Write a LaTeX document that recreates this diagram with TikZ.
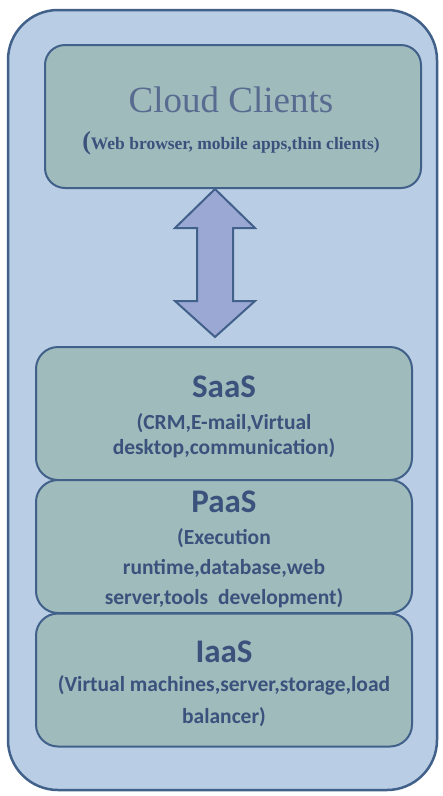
\documentclass[tikz,border=0pt]{standalone}
\usepackage{fontspec}
\setmainfont{Liberation Serif}
\newfontfamily\calfont{Carlito}
\usetikzlibrary{calc}

\definecolor{frame}{HTML}{41608A}
\definecolor{skyfill}{HTML}{B9CDE5}
\definecolor{layerfill}{HTML}{9FBBBC}
\definecolor{arrowfill}{HTML}{9BA8D3}
\definecolor{ink}{HTML}{3A527C}

\tikzset{
  layer/.style={draw=frame,line width=2pt,fill=layerfill,rounded corners=22pt,
    minimum width=376pt,minimum height=133pt},
  heading/.style={text=ink,font=\calfont\bfseries\fontsize{33}{38}\selectfont},
  detail/.style={text=ink,align=center,inner sep=0pt}
}

\begin{document}
\begin{tikzpicture}[x=1pt,y=-1pt]
    \useasboundingbox (0,0) rectangle (443,796);
    \draw[draw=frame,line width=2.5pt,fill=skyfill,rounded corners=50pt] (8,10) rectangle (437,790);

    % client box on top
    \node[layer,minimum height=143pt,rounded corners=20pt] (clients) at (233,116.5) {};
    \node[text=ink!85,font=\rmfamily\fontsize{37}{40}\selectfont] (clientst) at (231,100) {Cloud Clients};
    \node[detail,font=\rmfamily\bfseries\fontsize{17.5}{20}\selectfont] (clientsd) at (231,143)
        {{\fontsize{26}{26}\selectfont(}Web browser, mobile apps,thin clients)};

    % service layers
    \node[layer] (saas) at (224,413.5) {};
    \node[layer] (paas) at (224,546.5) {};
    \node[layer] (iaas) at (224,680) {};

    \node[heading] (saast) at (224,387) {SaaS};
    \node[detail,font=\calfont\bfseries\fontsize{21.5}{25}\selectfont] (saasd) at (224,435.5)
        {(CRM,E-mail,Virtual\\desktop,communication)};
    \node[heading] (paast) at (224,502) {PaaS};
    \node[detail,font=\calfont\bfseries\fontsize{21.5}{30}\selectfont] (paasd) at (224,568)
        {(Execution\\runtime,database,web\\server,tools\ \ development)};
    \node[heading] (iaast) at (224,652) {IaaS};
    \node[detail,font=\calfont\bfseries\fontsize{21.5}{32}\selectfont] (iaasd) at (224,701)
        {(Virtual machines,server,storage,load\\balancer)};

    % two way arrow
    \coordinate (tip1) at ($(clients.south)+(-18,0)$);
    \coordinate (tip2) at ($(saas.north)+(-9,-9)$);
    \draw[draw=frame,line width=2pt,fill=arrowfill,line join=miter]
        (tip1) -- ++(40,39) -- ++(-22,0) -- ($(tip2)+(18,-36)$) -- ++(22,0) -- (tip2)
        -- ++(-40,-36) -- ++(22,0) -- ($(tip1)+(-18,39)$) -- ++(-22,0) -- cycle;
\end{tikzpicture}
\end{document}
